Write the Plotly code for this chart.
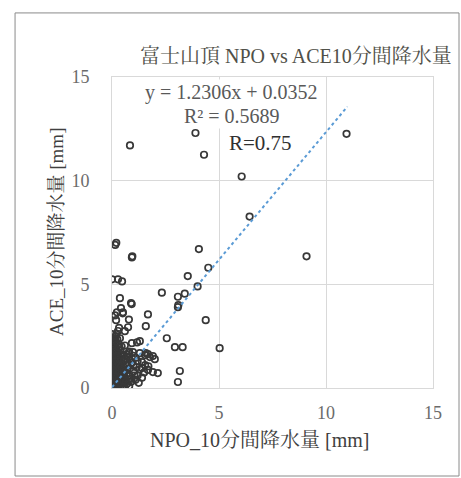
import plotly.graph_objects as go

npo = [0.84, 3.9, 4.3, 10.96, 6.06, 6.43, 9.09,
       0.2, 0.15, 0.93, 0.95, 4.06, 4.5, 3.54, 4.0,
       0.0, 0.28, 0.47, 2.33, 3.08, 3.4, 3.08, 3.1,
       0.37, 0.89, 0.92, 0.42, 0.5, 0.14, 0.19, 1.68, 0.79, 4.38,
       1.58, 0.75, 0.6, 2.56, 0.0, 0.14, 0.37, 0.93, 1.17, 1.3,
       2.94, 3.3, 5.03, 3.17, 3.08, 2.14,
       1.3, 1.54, 1.77, 1.4, 1.68, 1.91, 0.98, 0.79, 1.58, 1.68, 1.91, 2.0,
       0.05, 0.1, 0.2, 0.3, 0.15, 0.4, 0.05, 0.25, 0.5, 0.6,
       0.8, 0.7, 1.0, 1.1, 1.2, 0.9, 1.4, 1.55, 1.7,
       0.05, 0.15, 0.25, 0.35, 0.1, 0.2, 0.3, 0.45, 0.55, 0.05,
       0.15, 0.25, 0.1, 0.2, 0.05, 0.3, 0.4, 0.5, 0.6, 0.7,
       0.8, 1.0, 1.3, 1.5, 1.1, 0.9, 0.7, 0.5, 0.0, 0.02,
       0.02, 0.02, 0.02, 0.35, 0.45, 0.55, 0.65, 0.75, 0.15, 0.08,
       0.12, 0.3, 0.4, 0.6, 0.8, 1.2, 1.4, 1.0, 0.85, 0.23,
       0.51, 0.33, 0.2, 0.28, 0.1, 0.45, 0.6, 0.35, 0.25, 0.12,
       0.0, 0.0, 0.0, 0.0, 0.0, 0.0, 0.0, 0.0, 0.0, 0.0,
       0.18, 0.18, 0.18, 0.18, 0.18, 0.18, 0.18, 0.18, 0.18,
       0.32, 0.32, 0.32, 0.32, 0.32, 0.32, 0.32, 0.32,
       0.42, 0.42, 0.42, 0.42, 0.42, 0.42, 0.55, 0.55, 0.55,
       0.65, 0.68, 0.72, 0.9, 1.05, 1.25, 1.15, 0.95, 0.62, 0.78]
ace = [11.7, 12.3, 11.25, 12.26, 10.2, 8.27, 6.35,
       7.0, 6.9, 6.3, 6.35, 6.7, 5.8, 5.4, 4.9,
       5.24, 5.24, 5.14, 4.6, 4.4, 4.55, 3.9, 4.0,
       4.33, 4.1, 4.05, 3.85, 3.6, 3.5, 3.27, 3.55, 3.3, 3.27,
       2.98, 2.93, 2.74, 2.4, 2.4, 2.4, 2.4, 2.16, 2.2, 2.26,
       1.97, 1.97, 1.92, 0.82, 0.29, 0.72,
       1.68, 1.59, 1.49, 0.96, 0.87, 0.77, 1.73, 1.68, 1.68, 1.63, 1.54, 1.39,
       2.2, 2.0, 1.9, 2.1, 1.7, 1.8, 1.5, 1.5, 1.6, 1.4,
       1.75, 1.6, 1.55, 1.45, 1.3, 1.2, 1.25, 1.1, 1.05,
       1.2, 1.1, 1.0, 0.9, 0.8, 0.7, 0.6, 0.8, 0.7, 0.5,
       0.4, 0.3, 0.2, 0.1, 0.05, 0.15, 0.4, 0.3, 0.5, 0.9,
       0.6, 0.8, 0.9, 0.75, 0.4, 0.3, 0.2, 0.1, 0.0, 0.3,
       0.9, 1.4, 1.8, 1.3, 1.2, 1.0, 1.2, 0.4, 0.6, 1.0,
       0.15, 0.05, 0.05, 0.05, 0.1, 0.6, 0.5, 1.1, 0.95, 3.65,
       3.65, 2.9, 2.6, 2.75, 2.3, 2.0, 2.05, 1.95, 2.35, 1.85,
       0.15, 0.45, 0.7, 1.05, 1.25, 1.6, 2.0, 2.25, 2.6, 0.85,
       0.05, 0.35, 0.55, 0.85, 1.15, 1.35, 1.55, 2.25, 2.5,
       0.25, 0.45, 0.75, 1.0, 1.15, 1.45, 1.7, 1.95,
       0.2, 0.55, 0.65, 1.05, 1.4, 1.6, 0.35, 0.85, 1.3,
       0.3, 0.65, 1.1, 0.45, 0.6, 0.25, 1.0, 1.4, 0.8, 1.5]

slope = 1.2306
intercept = 0.0352
trend_x = [0.0, 11.0]
trend_y = [slope * v + intercept for v in trend_x]

tick_vals = [0, 5, 10, 15]
tick_text = ["0", "5", "10", "15"]

FONT = "Liberation Serif, 'Noto Serif CJK JP', 'Noto Sans CJK JP', serif"

fig = go.Figure()
fig.add_trace(go.Scatter(
    x=npo, y=ace, mode="markers",
    marker=dict(symbol="circle-open", size=6.5, color="#383838",
                line=dict(width=1.7, color="#383838")),
    showlegend=False, hoverinfo="skip"))
fig.add_trace(go.Scatter(
    x=trend_x, y=trend_y, mode="lines",
    line=dict(color="#5b9bd5", width=2, dash="dot"),
    showlegend=False, hoverinfo="skip"))

axis_common = dict(
    range=[0, 15], tickvals=tick_vals, ticktext=tick_text,
    showgrid=True, gridcolor="#d9d9d9", gridwidth=1,
    zeroline=False, showline=True, linecolor="#d9d9d9", linewidth=1,
    mirror=True, ticks="", tickfont=dict(family=FONT, size=18, color="#6b6b6b"),
)

fig.update_layout(
    width=461, height=478,
    margin=dict(l=112, r=28, t=77, b=90),
    paper_bgcolor="white", plot_bgcolor="white",
    font=dict(family=FONT),
    xaxis=dict(**axis_common, ticklabelstandoff=8),
    yaxis=dict(**axis_common, ticklabelstandoff=18),
    shapes=[dict(type="rect", xref="paper", yref="paper",
                 x0=-0.302, x1=1.081, y0=-0.283, y1=1.206,
                 line=dict(color="#8a8a8a", width=1), layer="below")],
    annotations=[
        dict(text="富士山頂 NPO vs ACE10分間降水量", xref="paper", yref="paper",
             x=0.573, y=1.066, xanchor="center", yanchor="middle", showarrow=False,
             font=dict(family=FONT, size=20, color="#505048")),
        dict(text="NPO_10分間降水量 [mm]", xref="paper", yref="paper",
             x=0.461, y=-0.167, xanchor="center", yanchor="middle", showarrow=False,
             font=dict(family=FONT, size=20, color="#404040")),
        dict(text="ACE_10分間降水量 [mm]", xref="paper", yref="paper",
             x=-0.171, y=0.502, xanchor="center", yanchor="middle",
             showarrow=False, textangle=-90,
             font=dict(family=FONT, size=19, color="#404040")),
        dict(text="y = 1.2306x + 0.0352", xref="x", yref="y",
             x=5.6, y=14.25, showarrow=False, bgcolor="white",
             font=dict(family=FONT, size=20, color="#595959")),
        dict(text="R² = 0.5689", xref="x", yref="y",
             x=5.6, y=13.1, showarrow=False, bgcolor="white",
             font=dict(family=FONT, size=20, color="#595959")),
        dict(text="R=0.75", xref="x", yref="y",
             x=6.96, y=11.8, showarrow=False,
             font=dict(family=FONT, size=21, color="#303030")),
    ],
)

fig.write_html("out.html")
